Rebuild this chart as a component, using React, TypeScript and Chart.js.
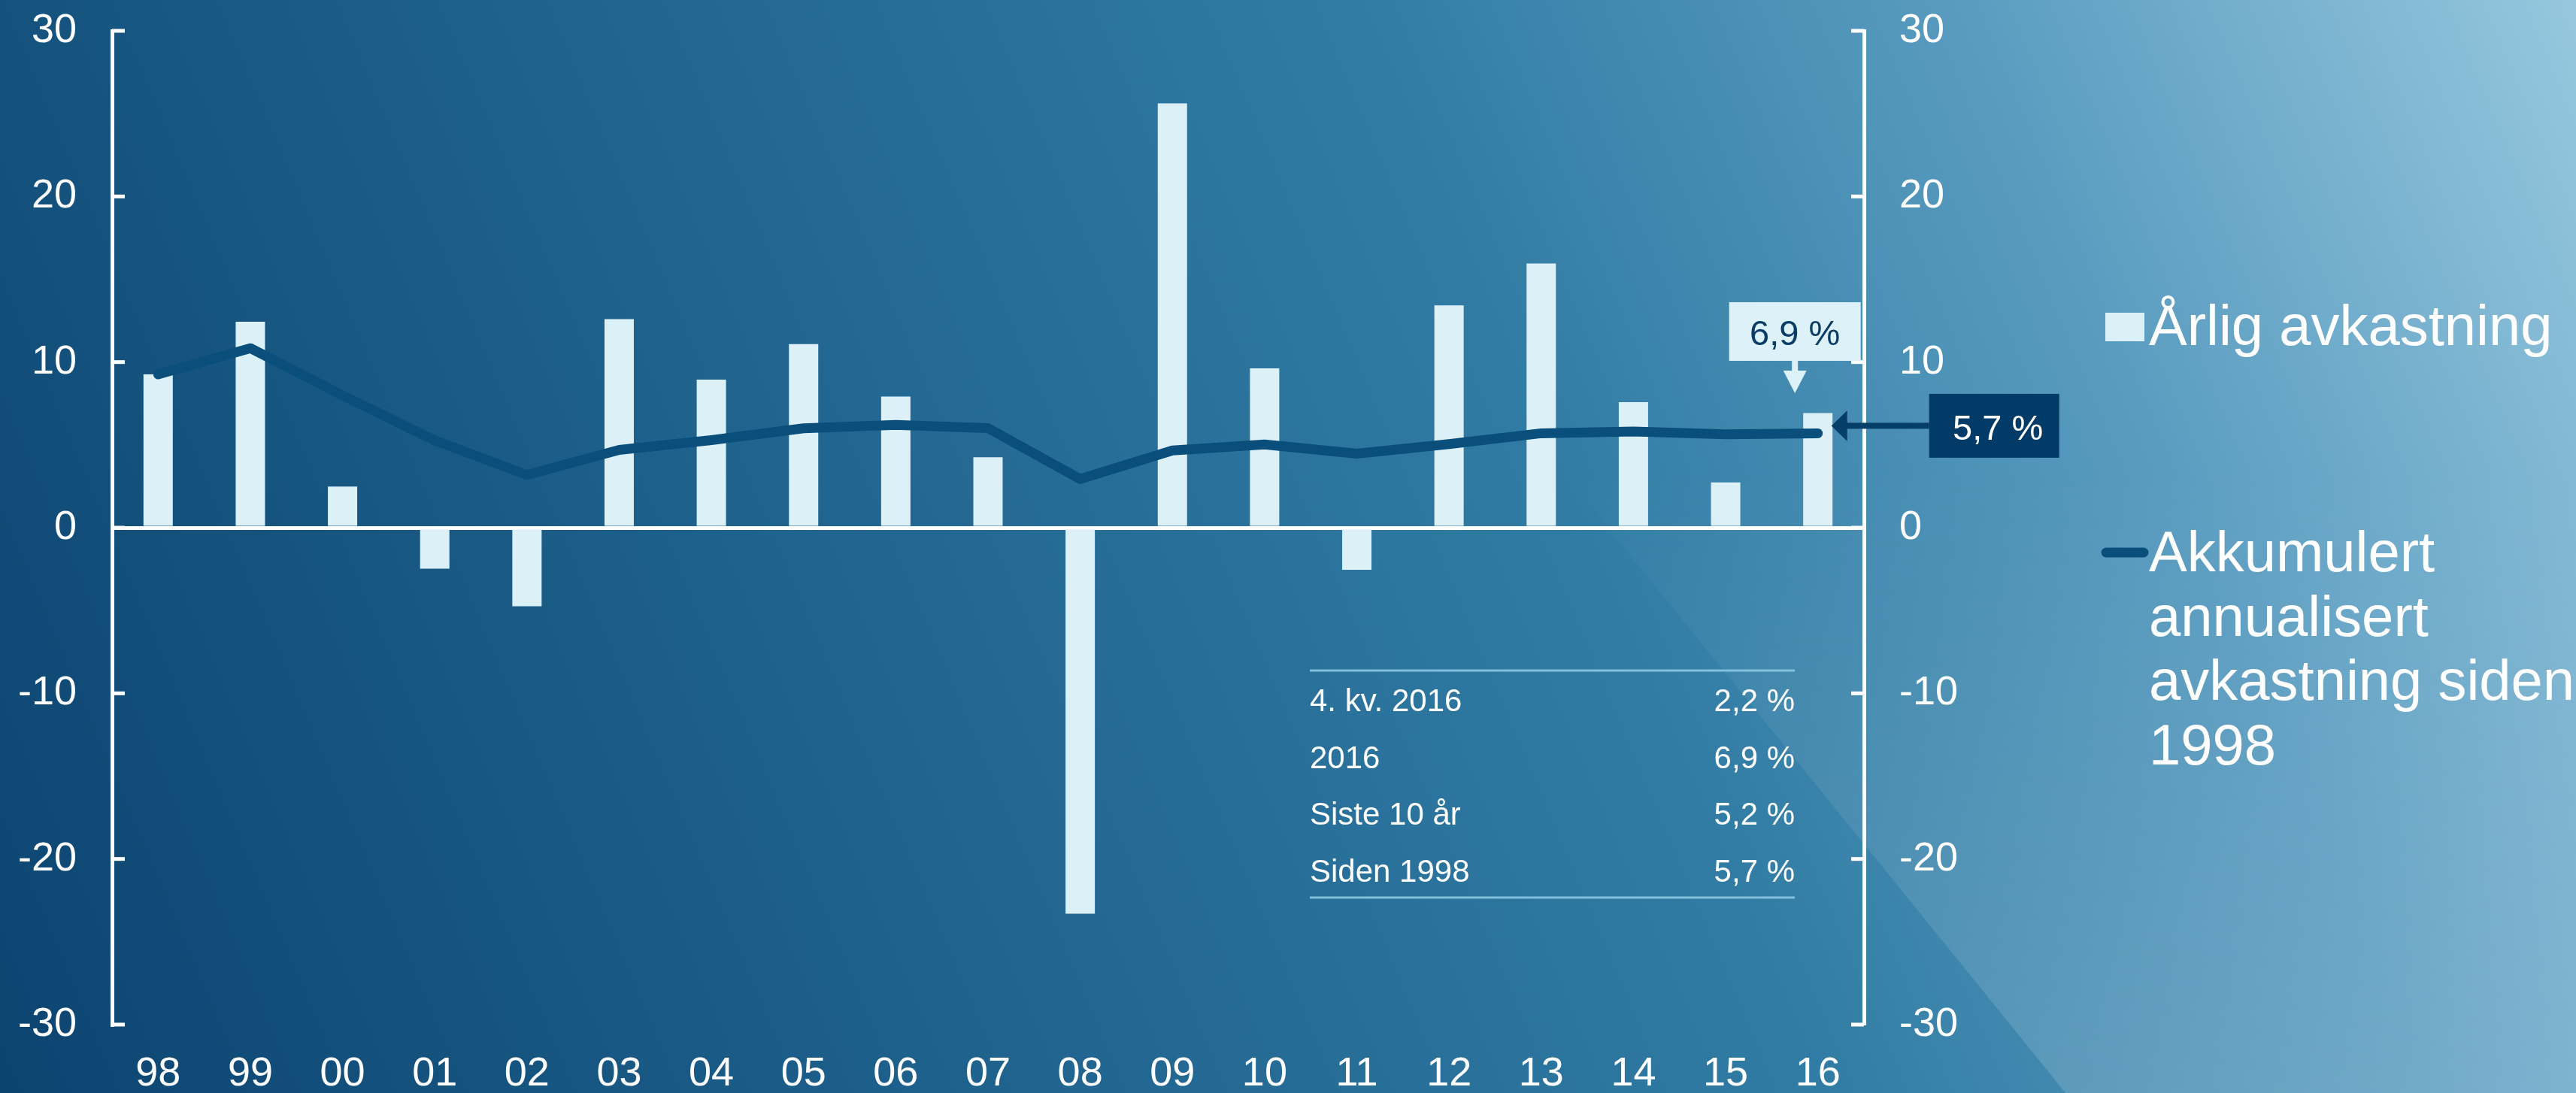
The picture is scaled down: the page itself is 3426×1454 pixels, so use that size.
import React, { useEffect, useRef } from 'react';
import { Chart, registerables } from 'chart.js';

Chart.register(...registerables);

const W = 3426;
const H = 1454;
const FONT = "'Liberation Sans', Arial, Helvetica, sans-serif";

// ---- data ----
const years = ['98', '99', '00', '01', '02', '03', '04', '05', '06', '07', '08', '09', '10', '11', '12', '13', '14', '15', '16'];
const annualReturn = [9.26, 12.44, 2.49, -2.47, -4.74, 12.59, 8.94, 11.09, 7.92, 4.26, -23.31, 25.62, 9.62, -2.54, 13.42, 15.95, 7.58, 2.74, 6.92];
const cumulativeReturn = [9.26, 10.84, 7.99, 5.27, 3.19, 4.70, 5.29, 6.0, 6.21, 6.01, 2.94, 4.66, 5.03, 4.47, 5.05, 5.70, 5.81, 5.64, 5.70];
const yTicks = [-30, -20, -10, 0, 10, 20, 30];
const legendBarLabel = 'Årlig avkastning';
const legendLineLabel = ['Akkumulert', 'annualisert', 'avkastning siden', '1998'];
const tableLabels = ['4. kv. 2016', '2016', 'Siste 10 år', 'Siden 1998'];
const tableValues = ['2,2 %', '6,9 %', '5,2 %', '5,7 %'];
const calloutBar = '6,9 %';
const calloutLine = '5,7 %';

const BAR_COLOR = '#dcf0f8';
const LINE_COLOR = '#0a4f7c';

const bgPlugin = {
  id: 'bgPlugin',
  beforeDraw(chart: any) {
    const { ctx, width, height } = chart;
    ctx.save();
    const g = ctx.createLinearGradient(0, height, width, 0);
    g.addColorStop(0, '#0c4470');
    g.addColorStop(0.3, '#1d608b');
    g.addColorStop(0.6, '#317ca4');
    g.addColorStop(0.8, '#5a9cc0');
    g.addColorStop(1, '#96c7de');
    ctx.fillStyle = g;
    ctx.fillRect(0, 0, width, height);
    // lighter facet on the lower right
    const fg = ctx.createLinearGradient(0, 620, 0, height);
    fg.addColorStop(0, 'rgba(255,255,255,0)');
    fg.addColorStop(1, 'rgba(255,255,255,0.15)');
    ctx.fillStyle = fg;
    ctx.beginPath();
    ctx.moveTo(1570, 0);
    ctx.lineTo(width, 0);
    ctx.lineTo(width, height);
    ctx.lineTo(2258 + 0.81 * (height - 850), height);
    ctx.closePath();
    ctx.fill();
    ctx.restore();
  },
};

const inwardTicksPlugin = {
  id: 'inwardTicks',
  afterDatasetsDraw(chart: any) {
    const { ctx } = chart;
    const y = chart.scales.y;
    const y2 = chart.scales.y2;
    ctx.save();
    ctx.strokeStyle = '#ffffff';
    ctx.lineWidth = 5;
    y.ticks.forEach((t: any) => {
      const py = y.getPixelForValue(t.value);
      ctx.beginPath();
      ctx.moveTo(chart.chartArea.left, py);
      ctx.lineTo(chart.chartArea.left + 17, py);
      ctx.stroke();
    });
    y2.ticks.forEach((t: any) => {
      const py = y2.getPixelForValue(t.value);
      ctx.beginPath();
      ctx.moveTo(chart.chartArea.right, py);
      ctx.lineTo(chart.chartArea.right - 17, py);
      ctx.stroke();
    });
    ctx.restore();
  },
};

const calloutPlugin = {
  id: 'callouts',
  afterDatasetsDraw(chart: any) {
    const { ctx } = chart;
    const xs = chart.scales.x;
    const ys = chart.scales.y;
    const last = years.length - 1;
    const bx = xs.getPixelForValue(last);
    const barTop = ys.getPixelForValue(annualReturn[last]);
    const lineY = ys.getPixelForValue(cumulativeReturn[last]);
    ctx.save();
    // light callout above last bar
    const cx = bx - 30.5;
    const boxBottom = barTop - 69.5;
    const boxW = 175;
    const boxH = 78;
    ctx.fillStyle = '#ddf1f8';
    ctx.fillRect(cx - boxW / 2, boxBottom - boxH, boxW, boxH);
    ctx.fillRect(cx - 4, boxBottom - 1, 8, 14);
    ctx.beginPath();
    ctx.moveTo(cx - 15.5, boxBottom + 13);
    ctx.lineTo(cx + 15.5, boxBottom + 13);
    ctx.lineTo(cx, barTop - 26.5);
    ctx.closePath();
    ctx.fill();
    ctx.fillStyle = '#0a3c66';
    ctx.font = `47px ${FONT}`;
    ctx.textAlign = 'center';
    ctx.textBaseline = 'alphabetic';
    ctx.fillText(calloutBar, cx, boxBottom - 21);

    // dark callout to the right of line end
    const dLeft = bx + 148;
    const dW = 173;
    const dH = 85;
    const dCy = lineY - 10;
    ctx.fillStyle = '#033b68';
    ctx.fillRect(dLeft, dCy - dH / 2, dW, dH);
    const tipX = bx + 18;
    ctx.fillStyle = '#063e6a';
    ctx.fillRect(tipX + 20, dCy - 4, dLeft - tipX - 20, 8);
    ctx.beginPath();
    ctx.moveTo(tipX, dCy);
    ctx.lineTo(tipX + 21, dCy - 20.5);
    ctx.lineTo(tipX + 21, dCy + 20.5);
    ctx.closePath();
    ctx.fill();
    ctx.fillStyle = '#ffffff';
    ctx.font = `47px ${FONT}`;
    ctx.textAlign = 'center';
    ctx.fillText(calloutLine, dLeft + dW / 2 + 5, dCy + 18.5);
    ctx.restore();
  },
};

const tablePlugin = {
  id: 'statsTable',
  afterDatasetsDraw(chart: any) {
    const { ctx } = chart;
    const left = 1742;
    const right = 2387;
    ctx.save();
    ctx.strokeStyle = 'rgba(140,200,228,0.9)';
    ctx.lineWidth = 3;
    [892, 1194].forEach((yy) => {
      ctx.beginPath();
      ctx.moveTo(left, yy);
      ctx.lineTo(right, yy);
      ctx.stroke();
    });
    ctx.fillStyle = '#ffffff';
    ctx.font = `42px ${FONT}`;
    ctx.textBaseline = 'alphabetic';
    tableLabels.forEach((lab, i) => {
      const by = 946 + i * 75.7;
      ctx.textAlign = 'left';
      ctx.fillText(lab, left, by);
      ctx.textAlign = 'right';
      ctx.fillText(tableValues[i], right, by);
    });
    ctx.restore();
  },
};

const legendPlugin = {
  id: 'sideLegend',
  afterDraw(chart: any) {
    const { ctx } = chart;
    ctx.save();
    ctx.fillStyle = BAR_COLOR;
    ctx.fillRect(2800, 416, 52, 38);
    ctx.fillStyle = '#ffffff';
    ctx.font = `76px ${FONT}`;
    ctx.textAlign = 'left';
    ctx.textBaseline = 'alphabetic';
    ctx.fillText(legendBarLabel, 2858, 459);
    ctx.strokeStyle = LINE_COLOR;
    ctx.lineWidth = 13;
    ctx.lineCap = 'round';
    ctx.beginPath();
    ctx.moveTo(2801, 735);
    ctx.lineTo(2851, 735);
    ctx.stroke();
    legendLineLabel.forEach((ln, i) => {
      ctx.fillText(ln, 2858, 760 + i * 85.7);
    });
    ctx.restore();
  },
};

const zeroPad = (s: any) => {
  s.paddingTop = 0;
  s.paddingBottom = 0;
  s.paddingLeft = 0;
  s.paddingRight = 0;
};

export default function App() {
  const ref = useRef<HTMLCanvasElement | null>(null);

  useEffect(() => {
    document.body.style.margin = '0';
    document.body.style.overflow = 'hidden';
    const canvas = ref.current;
    if (!canvas) return;
    const tickFont = { family: FONT, size: 54 };
    const chart = new Chart(canvas, {
      type: 'bar',
      data: {
        labels: years,
        datasets: [
          {
            type: 'line',
            label: legendLineLabel.join(' '),
            data: cumulativeReturn,
            yAxisID: 'y',
            borderColor: LINE_COLOR,
            backgroundColor: LINE_COLOR,
            borderWidth: 13,
            pointRadius: 0,
            tension: 0,
            borderCapStyle: 'round',
            borderJoinStyle: 'round',
            order: 0,
          } as any,
          {
            type: 'bar',
            label: legendBarLabel,
            data: annualReturn,
            yAxisID: 'y',
            backgroundColor: BAR_COLOR,
            barPercentage: 0.318,
            categoryPercentage: 1,
            order: 1,
          } as any,
        ],
      },
      options: {
        responsive: false,
        devicePixelRatio: 1,
        animation: false,
        layout: { padding: { top: 41, left: 0, right: 0, bottom: 0 } },
        plugins: {
          legend: { display: false },
          tooltip: { enabled: false },
        },
        scales: {
          x: {
            type: 'category',
            position: 'bottom',
            offset: true,
            grid: { display: false, drawTicks: false },
            border: { display: false },
            ticks: { color: '#ffffff', font: tickFont, padding: 34, maxRotation: 0, autoSkip: false },
            afterFit: (s: any) => {
              s.height = 91;
              zeroPad(s);
            },
          },
          y: {
            type: 'linear',
            position: 'left',
            min: -30,
            max: 30,
            afterBuildTicks: (s: any) => {
              s.ticks = yTicks.map((v) => ({ value: v }));
            },
            grid: {
              drawTicks: false,
              lineWidth: 5,
              color: (c: any) => (c.tick && c.tick.value === 0 ? '#ffffff' : 'rgba(0,0,0,0)'),
            },
            border: { display: true, color: '#ffffff', width: 5 },
            ticks: { color: '#ffffff', font: tickFont, padding: 47 },
            afterFit: (s: any) => {
              s.width = 149;
              zeroPad(s);
            },
          },
          y2: {
            type: 'linear',
            position: 'right',
            min: -30,
            max: 30,
            afterBuildTicks: (s: any) => {
              s.ticks = yTicks.map((v) => ({ value: v }));
            },
            grid: { display: false, drawTicks: false },
            border: { display: true, color: '#ffffff', width: 5 },
            ticks: { color: '#ffffff', font: tickFont, padding: 47 },
            afterFit: (s: any) => {
              s.width = W - 2479;
              zeroPad(s);
            },
          },
        },
      },
      plugins: [bgPlugin, inwardTicksPlugin, calloutPlugin, tablePlugin, legendPlugin],
    } as any);
    return () => chart.destroy();
  }, []);

  return (
    <div style={{ position: 'absolute', left: 0, top: 0, width: W, height: H, overflow: 'hidden' }}>
      <canvas ref={ref} width={W} height={H} style={{ display: 'block', width: W, height: H }} />
    </div>
  );
}
